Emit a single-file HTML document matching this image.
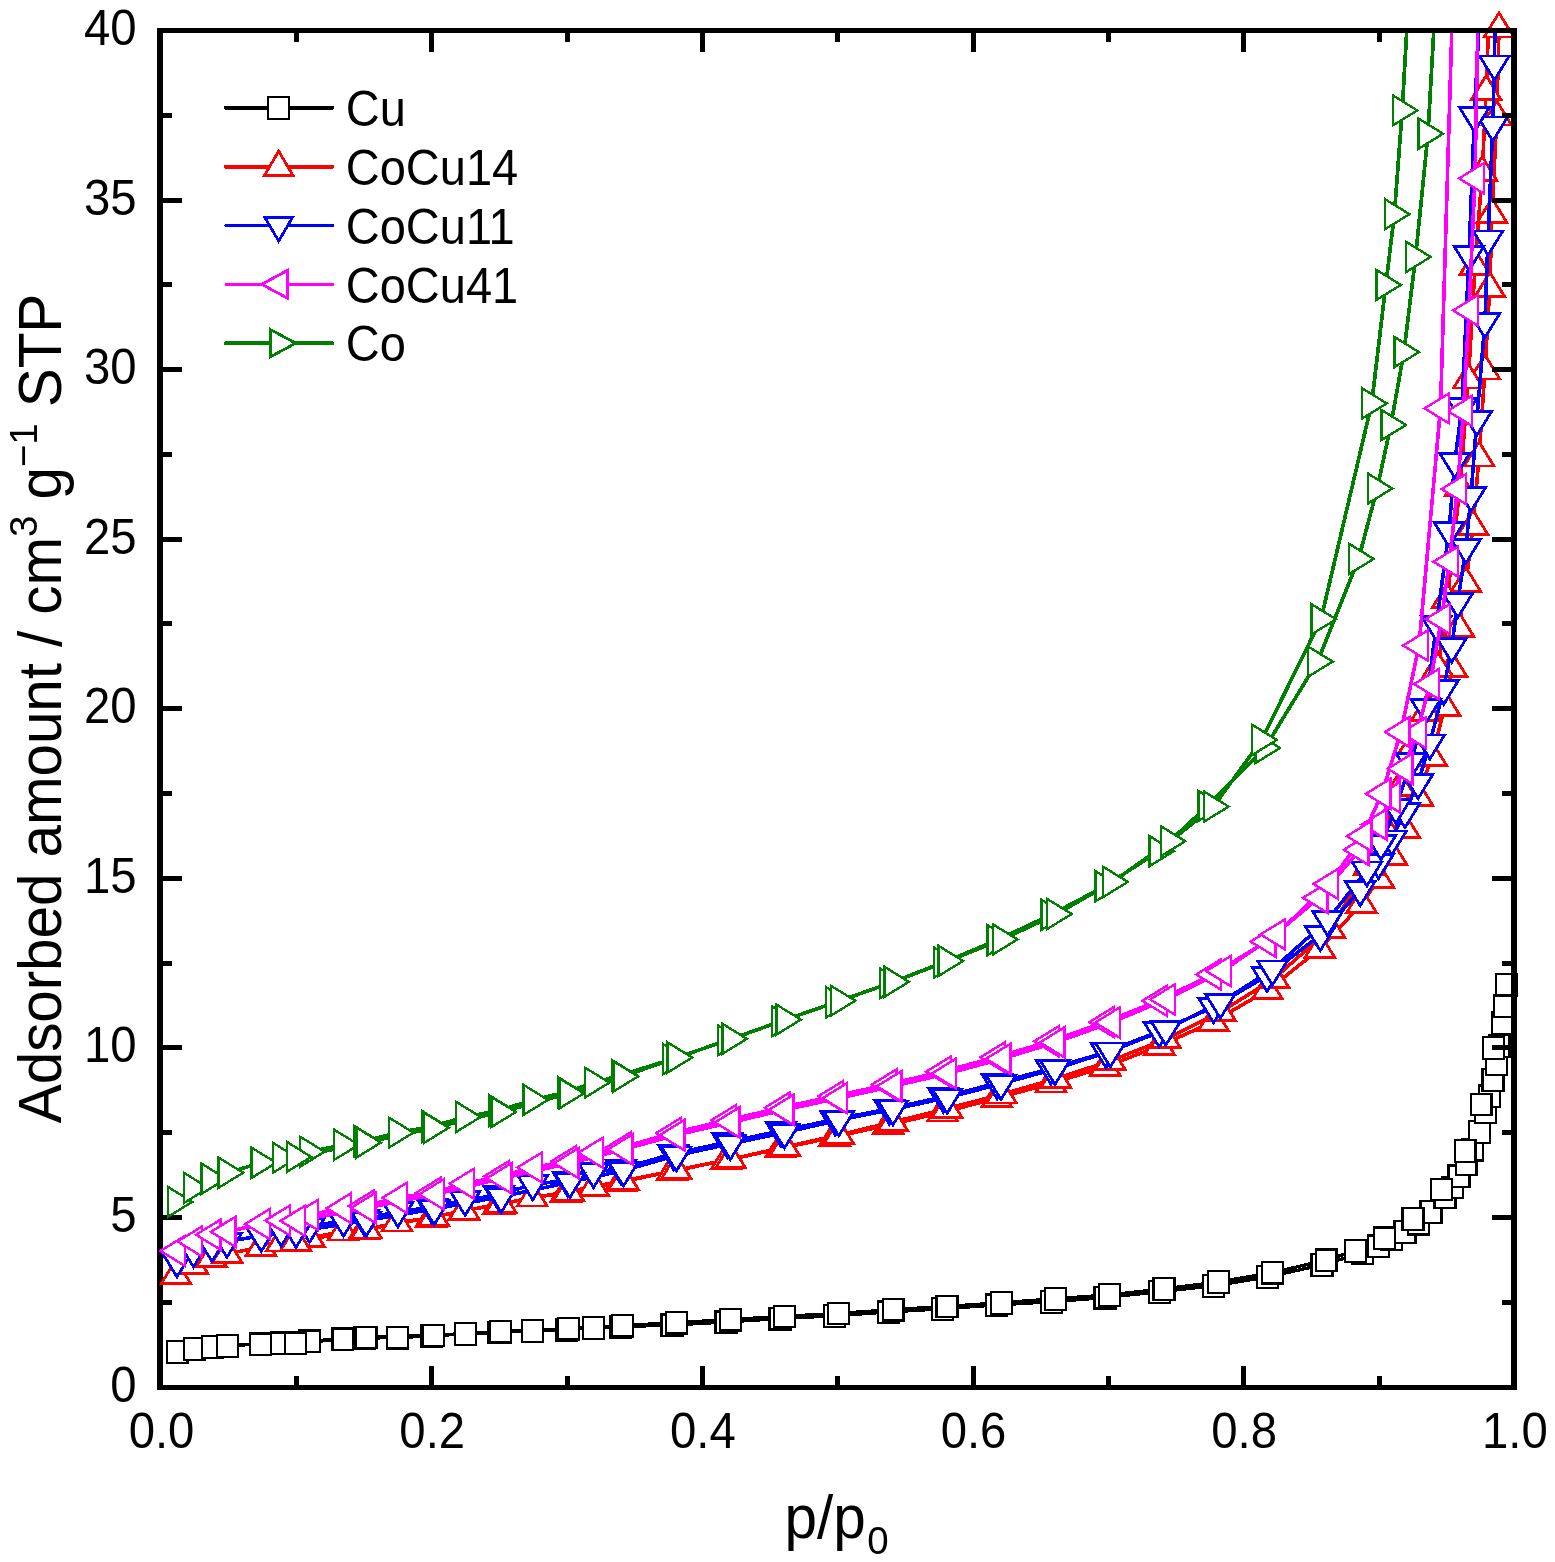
<!DOCTYPE html>
<html lang="en"><head><meta charset="utf-8"><title>Adsorption isotherms</title>
<style>
html,body{margin:0;padding:0;background:#fff}
body{width:1555px;height:1562px;overflow:hidden}
svg{display:block;font-family:"Liberation Sans",sans-serif;fill:#000}
.tl text{font-size:47.3px}
.at{font-size:58.5px}
.yt{letter-spacing:-0.11px}
.sub,.sup{font-size:38.5px}
.lg text{font-size:47px}
.s path{fill:none;stroke-linejoin:round;stroke-linecap:butt;shape-rendering:crispEdges}
.ax{shape-rendering:crispEdges}
.s .m{fill:#fff;stroke-linejoin:miter}
</style></head><body>
<svg width="1555" height="1562" viewBox="0 0 1555 1562">
<rect x="0" y="0" width="1555" height="1562" fill="#fff"/>
<defs><clipPath id="pc"><rect x="160" y="30" width="1354" height="1358"/></clipPath></defs>
<path class="ax" d="M157 28h6V1385H1517v5H157z" fill="#000"/><path class="ax" d="M293.8 1375.7h5.0V1386h-5.0zM429.2 1366.0h5.0V1386h-5.0zM564.5 1375.7h5.0V1386h-5.0zM699.8 1366.0h5.0V1386h-5.0zM835.1 1375.7h5.0V1386h-5.0zM970.5 1366.0h5.0V1386h-5.0zM1105.8 1375.7h5.0V1386h-5.0zM1241.1 1366.0h5.0V1386h-5.0zM1376.5 1375.7h5.0V1386h-5.0zM162 1299.7H172.0v5.0H162zM162 1214.9H182.0v5.0H162zM162 1130.1H172.0v5.0H162zM162 1045.3H182.0v5.0H162zM162 960.6H172.0v5.0H162zM162 875.8H182.0v5.0H162zM162 791.0H172.0v5.0H162zM162 706.2H182.0v5.0H162zM162 621.4H172.0v5.0H162zM162 536.6H182.0v5.0H162zM162 451.8H172.0v5.0H162zM162 367.1H182.0v5.0H162zM162 282.3H172.0v5.0H162zM162 197.5H182.0v5.0H162zM162 112.7H172.0v5.0H162z" fill="#000"/>
<g class="s" stroke="#000">
<path clip-path="url(#pc)" d="M177.1 1351.9L194.6 1348.9L212.5 1346.8L227.3 1345.8L260.5 1344.0L281.0 1343.0L309.3 1341.0L342.8 1339.0L364.2 1338.1L397.6 1337.6L431.6 1336.0L465.6 1333.8L498.7 1332.4L532.7 1330.9L566.7 1329.5L593.3 1327.9L620.6 1326.7L672.0 1325.0L726.0 1322.0L780.0 1318.6L834.2 1315.8L888.7 1312.0L942.6 1308.8L996.5 1305.0L1051.6 1301.8L1104.9 1297.6L1159.5 1291.7L1213.7 1285.9L1267.5 1276.9L1321.9 1264.9L1362.4 1253.1L1378.5 1246.1L1391.3 1239.0L1405.0 1231.9L1418.5 1223.5L1431.0 1211.8L1444.9 1197.3L1452.2 1187.4L1459.0 1176.0L1466.1 1164.0L1472.8 1149.5L1479.5 1131.9L1485.6 1112.3L1489.5 1096.0L1493.0 1079.9L1496.5 1064.4L1499.1 1045.7L1502.6 1023.0L1504.5 1005.9L1506.4 984.6L1493.8 1047.9L1481.1 1104.4L1465.1 1150.9L1441.8 1189.3L1413.0 1218.9L1384.5 1238.0L1355.6 1250.8L1326.1 1260.0L1272.6 1272.6L1218.2 1281.9L1164.0 1288.9L1109.6 1294.8L1055.4 1298.8L1001.2 1302.7L947.0 1306.4L893.1 1309.6L838.6 1313.4L784.5 1316.2L730.4 1319.6L676.4 1322.6L622.6 1325.6L568.5 1328.6L500.6 1331.6L433.4 1335.2L366.0 1337.4L295.7 1343.0" stroke-width="3.3"/>
<path class="m" d="M166.7 1341.3h20.9v21.5h-20.9z" stroke-width="2.2"/>
<path class="m" d="M184.2 1338.3h20.9v21.5h-20.9z" stroke-width="2.2"/>
<path class="m" d="M202.1 1336.2h20.9v21.5h-20.9z" stroke-width="2.2"/>
<path class="m" d="M216.9 1335.2h20.9v21.5h-20.9z" stroke-width="2.2"/>
<path class="m" d="M250.1 1333.4h20.9v21.5h-20.9z" stroke-width="2.2"/>
<path class="m" d="M270.6 1332.4h20.9v21.5h-20.9z" stroke-width="2.2"/>
<path class="m" d="M298.9 1330.4h20.9v21.5h-20.9z" stroke-width="2.2"/>
<path class="m" d="M332.4 1328.4h20.9v21.5h-20.9z" stroke-width="2.2"/>
<path class="m" d="M353.8 1327.5h20.9v21.5h-20.9z" stroke-width="2.2"/>
<path class="m" d="M387.2 1327.0h20.9v21.5h-20.9z" stroke-width="2.2"/>
<path class="m" d="M421.2 1325.4h20.9v21.5h-20.9z" stroke-width="2.2"/>
<path class="m" d="M455.2 1323.2h20.9v21.5h-20.9z" stroke-width="2.2"/>
<path class="m" d="M488.2 1321.8h20.9v21.5h-20.9z" stroke-width="2.2"/>
<path class="m" d="M522.2 1320.3h20.9v21.5h-20.9z" stroke-width="2.2"/>
<path class="m" d="M556.2 1318.9h20.9v21.5h-20.9z" stroke-width="2.2"/>
<path class="m" d="M582.8 1317.3h20.9v21.5h-20.9z" stroke-width="2.2"/>
<path class="m" d="M610.1 1316.1h20.9v21.5h-20.9z" stroke-width="2.2"/>
<path class="m" d="M661.5 1314.4h20.9v21.5h-20.9z" stroke-width="2.2"/>
<path class="m" d="M715.5 1311.4h20.9v21.5h-20.9z" stroke-width="2.2"/>
<path class="m" d="M769.5 1308.0h20.9v21.5h-20.9z" stroke-width="2.2"/>
<path class="m" d="M823.8 1305.2h20.9v21.5h-20.9z" stroke-width="2.2"/>
<path class="m" d="M878.2 1301.4h20.9v21.5h-20.9z" stroke-width="2.2"/>
<path class="m" d="M932.1 1298.2h20.9v21.5h-20.9z" stroke-width="2.2"/>
<path class="m" d="M986.0 1294.4h20.9v21.5h-20.9z" stroke-width="2.2"/>
<path class="m" d="M1041.1 1291.2h20.9v21.5h-20.9z" stroke-width="2.2"/>
<path class="m" d="M1094.5 1287.0h20.9v21.5h-20.9z" stroke-width="2.2"/>
<path class="m" d="M1149.0 1281.1h20.9v21.5h-20.9z" stroke-width="2.2"/>
<path class="m" d="M1203.2 1275.3h20.9v21.5h-20.9z" stroke-width="2.2"/>
<path class="m" d="M1257.0 1266.3h20.9v21.5h-20.9z" stroke-width="2.2"/>
<path class="m" d="M1311.5 1254.3h20.9v21.5h-20.9z" stroke-width="2.2"/>
<path class="m" d="M1352.0 1242.5h20.9v21.5h-20.9z" stroke-width="2.2"/>
<path class="m" d="M1368.0 1235.5h20.9v21.5h-20.9z" stroke-width="2.2"/>
<path class="m" d="M1380.8 1228.4h20.9v21.5h-20.9z" stroke-width="2.2"/>
<path class="m" d="M1394.5 1221.3h20.9v21.5h-20.9z" stroke-width="2.2"/>
<path class="m" d="M1408.0 1212.9h20.9v21.5h-20.9z" stroke-width="2.2"/>
<path class="m" d="M1420.5 1201.2h20.9v21.5h-20.9z" stroke-width="2.2"/>
<path class="m" d="M1434.5 1186.7h20.9v21.5h-20.9z" stroke-width="2.2"/>
<path class="m" d="M1441.8 1176.8h20.9v21.5h-20.9z" stroke-width="2.2"/>
<path class="m" d="M1448.5 1165.4h20.9v21.5h-20.9z" stroke-width="2.2"/>
<path class="m" d="M1455.6 1153.4h20.9v21.5h-20.9z" stroke-width="2.2"/>
<path class="m" d="M1462.3 1138.9h20.9v21.5h-20.9z" stroke-width="2.2"/>
<path class="m" d="M1469.0 1121.3h20.9v21.5h-20.9z" stroke-width="2.2"/>
<path class="m" d="M1475.1 1101.7h20.9v21.5h-20.9z" stroke-width="2.2"/>
<path class="m" d="M1479.0 1085.4h20.9v21.5h-20.9z" stroke-width="2.2"/>
<path class="m" d="M1482.5 1069.3h20.9v21.5h-20.9z" stroke-width="2.2"/>
<path class="m" d="M1486.0 1053.8h20.9v21.5h-20.9z" stroke-width="2.2"/>
<path class="m" d="M1488.6 1035.1h20.9v21.5h-20.9z" stroke-width="2.2"/>
<path class="m" d="M1492.1 1012.4h20.9v21.5h-20.9z" stroke-width="2.2"/>
<path class="m" d="M1494.0 995.3h20.9v21.5h-20.9z" stroke-width="2.2"/>
<path class="m" d="M1496.0 974.0h20.9v21.5h-20.9z" stroke-width="2.2"/>
<path class="m" d="M1483.3 1037.3h20.9v21.5h-20.9z" stroke-width="2.2"/>
<path class="m" d="M1470.6 1093.8h20.9v21.5h-20.9z" stroke-width="2.2"/>
<path class="m" d="M1454.6 1140.3h20.9v21.5h-20.9z" stroke-width="2.2"/>
<path class="m" d="M1431.3 1178.7h20.9v21.5h-20.9z" stroke-width="2.2"/>
<path class="m" d="M1402.5 1208.3h20.9v21.5h-20.9z" stroke-width="2.2"/>
<path class="m" d="M1374.0 1227.4h20.9v21.5h-20.9z" stroke-width="2.2"/>
<path class="m" d="M1345.1 1240.2h20.9v21.5h-20.9z" stroke-width="2.2"/>
<path class="m" d="M1315.6 1249.4h20.9v21.5h-20.9z" stroke-width="2.2"/>
<path class="m" d="M1262.1 1262.0h20.9v21.5h-20.9z" stroke-width="2.2"/>
<path class="m" d="M1207.8 1271.3h20.9v21.5h-20.9z" stroke-width="2.2"/>
<path class="m" d="M1153.5 1278.3h20.9v21.5h-20.9z" stroke-width="2.2"/>
<path class="m" d="M1099.1 1284.2h20.9v21.5h-20.9z" stroke-width="2.2"/>
<path class="m" d="M1045.0 1288.2h20.9v21.5h-20.9z" stroke-width="2.2"/>
<path class="m" d="M990.8 1292.1h20.9v21.5h-20.9z" stroke-width="2.2"/>
<path class="m" d="M936.5 1295.8h20.9v21.5h-20.9z" stroke-width="2.2"/>
<path class="m" d="M882.6 1299.0h20.9v21.5h-20.9z" stroke-width="2.2"/>
<path class="m" d="M828.1 1302.8h20.9v21.5h-20.9z" stroke-width="2.2"/>
<path class="m" d="M774.0 1305.6h20.9v21.5h-20.9z" stroke-width="2.2"/>
<path class="m" d="M719.9 1309.0h20.9v21.5h-20.9z" stroke-width="2.2"/>
<path class="m" d="M665.9 1312.0h20.9v21.5h-20.9z" stroke-width="2.2"/>
<path class="m" d="M612.1 1315.0h20.9v21.5h-20.9z" stroke-width="2.2"/>
<path class="m" d="M558.0 1318.0h20.9v21.5h-20.9z" stroke-width="2.2"/>
<path class="m" d="M490.2 1321.0h20.9v21.5h-20.9z" stroke-width="2.2"/>
<path class="m" d="M422.9 1324.6h20.9v21.5h-20.9z" stroke-width="2.2"/>
<path class="m" d="M355.6 1326.8h20.9v21.5h-20.9z" stroke-width="2.2"/>
<path class="m" d="M285.2 1332.4h20.9v21.5h-20.9z" stroke-width="2.2"/>
</g>
<g class="s" stroke="#f00">
<path clip-path="url(#pc)" d="M176.0 1275.2L193.0 1264.9L211.4 1257.8L227.2 1254.0L261.0 1246.9L281.2 1242.4L309.5 1237.9L343.0 1231.5L364.0 1230.2L397.0 1222.5L431.1 1217.8L464.2 1210.6L498.6 1204.7L532.2 1197.4L565.9 1192.8L593.8 1187.1L620.9 1182.1L672.0 1171.2L726.2 1160.3L780.5 1148.5L834.5 1137.0L888.3 1125.0L942.5 1112.4L996.8 1098.2L1051.0 1083.5L1105.3 1066.8L1159.6 1045.9L1213.4 1021.6L1267.4 990.3L1319.9 948.9L1361.6 903.9L1378.8 878.8L1391.9 855.8L1404.7 828.8L1418.0 796.9L1431.8 756.9L1445.0 706.7L1452.2 668.1L1458.9 627.8L1465.9 582.9L1473.1 526.0L1479.0 457.4L1484.9 370.5L1489.8 288.0L1492.0 213.9L1496.8 116.5L1499.0 28.5L1500.2 -40.0L1490.6 -30.0L1486.2 91.1L1482.2 172.3L1475.1 265.6L1468.4 379.4L1459.9 487.5L1447.2 599.1L1438.0 668.0L1426.0 712.0L1413.5 745.0L1400.0 787.0L1385.0 828.0L1369.0 866.0L1329.9 928.9L1273.9 978.7L1220.6 1012.1L1165.5 1039.2L1110.3 1060.9L1055.8 1078.8L1001.5 1094.4L947.0 1108.6L892.8 1122.0L838.7 1135.0L784.7 1147.0L730.6 1159.3L676.3 1170.2L623.5 1180.8L568.5 1191.6L501.0 1203.6L433.6 1216.8L366.4 1229.4L295.6 1241.7" stroke-width="3.6"/>
<path class="m" d="M176.0 1259.6L190.8 1283.7H161.2z" stroke-width="2.8"/>
<path class="m" d="M193.0 1249.3L207.8 1273.4H178.2z" stroke-width="2.8"/>
<path class="m" d="M211.4 1242.2L226.2 1266.3H196.6z" stroke-width="2.8"/>
<path class="m" d="M227.2 1238.4L242.0 1262.5H212.4z" stroke-width="2.8"/>
<path class="m" d="M261.0 1231.3L275.8 1255.4H246.2z" stroke-width="2.8"/>
<path class="m" d="M281.2 1226.8L296.0 1250.9H266.4z" stroke-width="2.8"/>
<path class="m" d="M309.5 1222.3L324.3 1246.4H294.7z" stroke-width="2.8"/>
<path class="m" d="M343.0 1215.9L357.8 1240.0H328.2z" stroke-width="2.8"/>
<path class="m" d="M364.0 1214.6L378.8 1238.7H349.2z" stroke-width="2.8"/>
<path class="m" d="M397.0 1206.9L411.8 1231.0H382.2z" stroke-width="2.8"/>
<path class="m" d="M431.1 1202.2L445.9 1226.3H416.3z" stroke-width="2.8"/>
<path class="m" d="M464.2 1195.0L479.0 1219.1H449.4z" stroke-width="2.8"/>
<path class="m" d="M498.6 1189.1L513.4 1213.2H483.8z" stroke-width="2.8"/>
<path class="m" d="M532.2 1181.8L547.0 1205.9H517.4z" stroke-width="2.8"/>
<path class="m" d="M565.9 1177.2L580.7 1201.3H551.1z" stroke-width="2.8"/>
<path class="m" d="M593.8 1171.5L608.6 1195.6H579.0z" stroke-width="2.8"/>
<path class="m" d="M620.9 1166.5L635.7 1190.6H606.1z" stroke-width="2.8"/>
<path class="m" d="M672.0 1155.6L686.8 1179.7H657.2z" stroke-width="2.8"/>
<path class="m" d="M726.2 1144.7L741.0 1168.8H711.4z" stroke-width="2.8"/>
<path class="m" d="M780.5 1132.9L795.3 1157.0H765.7z" stroke-width="2.8"/>
<path class="m" d="M834.5 1121.4L849.3 1145.5H819.7z" stroke-width="2.8"/>
<path class="m" d="M888.3 1109.4L903.1 1133.5H873.5z" stroke-width="2.8"/>
<path class="m" d="M942.5 1096.8L957.3 1120.9H927.7z" stroke-width="2.8"/>
<path class="m" d="M996.8 1082.6L1011.6 1106.7H982.0z" stroke-width="2.8"/>
<path class="m" d="M1051.0 1067.9L1065.8 1092.0H1036.2z" stroke-width="2.8"/>
<path class="m" d="M1105.3 1051.2L1120.1 1075.3H1090.5z" stroke-width="2.8"/>
<path class="m" d="M1159.6 1030.3L1174.4 1054.4H1144.8z" stroke-width="2.8"/>
<path class="m" d="M1213.4 1006.0L1228.2 1030.1H1198.6z" stroke-width="2.8"/>
<path class="m" d="M1267.4 974.7L1282.2 998.8H1252.6z" stroke-width="2.8"/>
<path class="m" d="M1319.9 933.3L1334.7 957.4H1305.1z" stroke-width="2.8"/>
<path class="m" d="M1361.6 888.3L1376.4 912.4H1346.8z" stroke-width="2.8"/>
<path class="m" d="M1378.8 863.2L1393.6 887.3H1364.0z" stroke-width="2.8"/>
<path class="m" d="M1391.9 840.2L1406.7 864.3H1377.1z" stroke-width="2.8"/>
<path class="m" d="M1404.7 813.2L1419.5 837.3H1389.9z" stroke-width="2.8"/>
<path class="m" d="M1418.0 781.3L1432.8 805.4H1403.2z" stroke-width="2.8"/>
<path class="m" d="M1431.8 741.3L1446.6 765.4H1417.0z" stroke-width="2.8"/>
<path class="m" d="M1445.0 691.1L1459.8 715.2H1430.2z" stroke-width="2.8"/>
<path class="m" d="M1452.2 652.5L1467.0 676.6H1437.4z" stroke-width="2.8"/>
<path class="m" d="M1458.9 612.2L1473.7 636.3H1444.1z" stroke-width="2.8"/>
<path class="m" d="M1465.9 567.3L1480.7 591.4H1451.1z" stroke-width="2.8"/>
<path class="m" d="M1473.1 510.4L1487.9 534.5H1458.3z" stroke-width="2.8"/>
<path class="m" d="M1479.0 441.8L1493.8 465.9H1464.2z" stroke-width="2.8"/>
<path class="m" d="M1484.9 354.9L1499.7 379.0H1470.1z" stroke-width="2.8"/>
<path class="m" d="M1489.8 272.4L1504.6 296.5H1475.0z" stroke-width="2.8"/>
<path class="m" d="M1492.0 198.3L1506.8 222.4H1477.2z" stroke-width="2.8"/>
<path class="m" d="M1496.8 100.9L1511.6 125.0H1482.0z" stroke-width="2.8"/>
<path class="m" d="M1499.0 12.9L1513.8 37.0H1484.2z" stroke-width="2.8"/>
<path class="m" d="M1486.2 75.5L1501.0 99.6H1471.4z" stroke-width="2.8"/>
<path class="m" d="M1482.2 156.7L1497.0 180.8H1467.4z" stroke-width="2.8"/>
<path class="m" d="M1475.1 250.0L1489.9 274.1H1460.3z" stroke-width="2.8"/>
<path class="m" d="M1468.4 363.8L1483.2 387.9H1453.6z" stroke-width="2.8"/>
<path class="m" d="M1459.9 471.9L1474.7 496.0H1445.1z" stroke-width="2.8"/>
<path class="m" d="M1447.2 583.5L1462.0 607.6H1432.4z" stroke-width="2.8"/>
<path class="m" d="M1438.0 652.4L1452.8 676.5H1423.2z" stroke-width="2.8"/>
<path class="m" d="M1426.0 696.4L1440.8 720.5H1411.2z" stroke-width="2.8"/>
<path class="m" d="M1413.5 729.4L1428.3 753.5H1398.7z" stroke-width="2.8"/>
<path class="m" d="M1400.0 771.4L1414.8 795.5H1385.2z" stroke-width="2.8"/>
<path class="m" d="M1385.0 812.4L1399.8 836.5H1370.2z" stroke-width="2.8"/>
<path class="m" d="M1369.0 850.4L1383.8 874.5H1354.2z" stroke-width="2.8"/>
<path class="m" d="M1329.9 913.3L1344.7 937.4H1315.1z" stroke-width="2.8"/>
<path class="m" d="M1273.9 963.1L1288.7 987.2H1259.1z" stroke-width="2.8"/>
<path class="m" d="M1220.6 996.5L1235.4 1020.6H1205.8z" stroke-width="2.8"/>
<path class="m" d="M1165.5 1023.6L1180.3 1047.7H1150.7z" stroke-width="2.8"/>
<path class="m" d="M1110.3 1045.3L1125.1 1069.4H1095.5z" stroke-width="2.8"/>
<path class="m" d="M1055.8 1063.2L1070.6 1087.3H1041.0z" stroke-width="2.8"/>
<path class="m" d="M1001.5 1078.8L1016.3 1102.9H986.7z" stroke-width="2.8"/>
<path class="m" d="M947.0 1093.0L961.8 1117.1H932.2z" stroke-width="2.8"/>
<path class="m" d="M892.8 1106.4L907.6 1130.5H878.0z" stroke-width="2.8"/>
<path class="m" d="M838.7 1119.4L853.5 1143.5H823.9z" stroke-width="2.8"/>
<path class="m" d="M784.7 1131.4L799.5 1155.5H769.9z" stroke-width="2.8"/>
<path class="m" d="M730.6 1143.7L745.4 1167.8H715.8z" stroke-width="2.8"/>
<path class="m" d="M676.3 1154.6L691.1 1178.7H661.5z" stroke-width="2.8"/>
<path class="m" d="M623.5 1165.2L638.3 1189.3H608.7z" stroke-width="2.8"/>
<path class="m" d="M568.5 1176.0L583.3 1200.1H553.7z" stroke-width="2.8"/>
<path class="m" d="M501.0 1188.0L515.8 1212.1H486.2z" stroke-width="2.8"/>
<path class="m" d="M433.6 1201.2L448.4 1225.3H418.8z" stroke-width="2.8"/>
<path class="m" d="M366.4 1213.8L381.2 1237.9H351.6z" stroke-width="2.8"/>
<path class="m" d="M295.6 1226.1L310.4 1250.2H280.8z" stroke-width="2.8"/>
</g>
<g class="s" stroke="#00f">
<path clip-path="url(#pc)" d="M177.0 1261.3L193.5 1251.3L212.0 1245.9L226.9 1241.6L261.3 1235.8L281.2 1230.4L309.5 1226.8L343.5 1220.6L364.0 1219.1L397.9 1211.3L431.9 1207.5L465.1 1199.8L499.0 1195.1L532.7 1184.3L567.6 1180.4L593.5 1172.1L621.1 1168.7L673.3 1153.7L727.4 1142.1L781.0 1130.8L835.2 1119.4L889.3 1108.6L943.4 1096.9L997.0 1083.1L1050.8 1068.5L1106.1 1052.2L1159.1 1031.3L1213.6 1007.1L1267.0 975.8L1320.3 935.1L1360.2 890.0L1378.5 863.1L1391.7 839.4L1405.0 812.0L1418.1 782.9L1429.8 743.5L1443.7 688.8L1451.7 646.7L1457.8 601.9L1465.9 547.6L1471.0 495.6L1476.8 419.9L1484.9 322.1L1488.0 239.5L1492.8 125.5L1494.4 64.5L1495.8 -30.0L1481.8 -30.0L1474.4 116.1L1469.0 254.9L1462.0 406.9L1454.7 462.0L1449.0 531.0L1436.3 624.9L1425.8 707.7L1411.0 762.0L1395.8 807.9L1381.0 844.0L1366.9 870.4L1327.6 920.0L1272.5 969.5L1220.3 1002.6L1165.8 1029.6L1110.3 1051.4L1055.0 1068.9L1001.0 1083.9L947.2 1097.7L892.9 1109.4L838.8 1120.2L784.4 1132.6L730.4 1143.9L676.3 1155.5L623.4 1170.6L569.8 1182.2L501.2 1196.8L434.2 1209.0L366.2 1220.6L296.0 1231.7" stroke-width="3.6"/>
<path class="m" d="M177.0 1276.9L191.8 1252.8H162.2z" stroke-width="2.8"/>
<path class="m" d="M193.5 1266.9L208.3 1242.8H178.7z" stroke-width="2.8"/>
<path class="m" d="M212.0 1261.5L226.8 1237.4H197.2z" stroke-width="2.8"/>
<path class="m" d="M226.9 1257.2L241.7 1233.1H212.1z" stroke-width="2.8"/>
<path class="m" d="M261.3 1251.4L276.1 1227.3H246.5z" stroke-width="2.8"/>
<path class="m" d="M281.2 1246.0L296.0 1221.9H266.4z" stroke-width="2.8"/>
<path class="m" d="M309.5 1242.4L324.3 1218.3H294.7z" stroke-width="2.8"/>
<path class="m" d="M343.5 1236.2L358.3 1212.1H328.7z" stroke-width="2.8"/>
<path class="m" d="M364.0 1234.7L378.8 1210.6H349.2z" stroke-width="2.8"/>
<path class="m" d="M397.9 1226.9L412.7 1202.8H383.1z" stroke-width="2.8"/>
<path class="m" d="M431.9 1223.1L446.7 1199.0H417.1z" stroke-width="2.8"/>
<path class="m" d="M465.1 1215.4L479.9 1191.3H450.3z" stroke-width="2.8"/>
<path class="m" d="M499.0 1210.7L513.8 1186.6H484.2z" stroke-width="2.8"/>
<path class="m" d="M532.7 1199.9L547.5 1175.8H517.9z" stroke-width="2.8"/>
<path class="m" d="M567.6 1196.0L582.4 1171.9H552.8z" stroke-width="2.8"/>
<path class="m" d="M593.5 1187.7L608.3 1163.6H578.7z" stroke-width="2.8"/>
<path class="m" d="M621.1 1184.3L635.9 1160.2H606.3z" stroke-width="2.8"/>
<path class="m" d="M673.3 1169.3L688.1 1145.2H658.5z" stroke-width="2.8"/>
<path class="m" d="M727.4 1157.7L742.2 1133.6H712.6z" stroke-width="2.8"/>
<path class="m" d="M781.0 1146.4L795.8 1122.3H766.2z" stroke-width="2.8"/>
<path class="m" d="M835.2 1135.0L850.0 1110.9H820.4z" stroke-width="2.8"/>
<path class="m" d="M889.3 1124.2L904.1 1100.1H874.5z" stroke-width="2.8"/>
<path class="m" d="M943.4 1112.5L958.2 1088.4H928.6z" stroke-width="2.8"/>
<path class="m" d="M997.0 1098.7L1011.8 1074.6H982.2z" stroke-width="2.8"/>
<path class="m" d="M1050.8 1084.1L1065.6 1060.0H1036.0z" stroke-width="2.8"/>
<path class="m" d="M1106.1 1067.8L1120.9 1043.7H1091.3z" stroke-width="2.8"/>
<path class="m" d="M1159.1 1046.9L1173.9 1022.8H1144.3z" stroke-width="2.8"/>
<path class="m" d="M1213.6 1022.7L1228.4 998.6H1198.8z" stroke-width="2.8"/>
<path class="m" d="M1267.0 991.4L1281.8 967.3H1252.2z" stroke-width="2.8"/>
<path class="m" d="M1320.3 950.7L1335.1 926.6H1305.5z" stroke-width="2.8"/>
<path class="m" d="M1360.2 905.6L1375.0 881.5H1345.4z" stroke-width="2.8"/>
<path class="m" d="M1378.5 878.7L1393.3 854.6H1363.7z" stroke-width="2.8"/>
<path class="m" d="M1391.7 855.0L1406.5 830.9H1376.9z" stroke-width="2.8"/>
<path class="m" d="M1405.0 827.6L1419.8 803.5H1390.2z" stroke-width="2.8"/>
<path class="m" d="M1418.1 798.5L1432.9 774.4H1403.3z" stroke-width="2.8"/>
<path class="m" d="M1429.8 759.1L1444.6 735.0H1415.0z" stroke-width="2.8"/>
<path class="m" d="M1443.7 704.4L1458.5 680.3H1428.9z" stroke-width="2.8"/>
<path class="m" d="M1451.7 662.3L1466.5 638.2H1436.9z" stroke-width="2.8"/>
<path class="m" d="M1457.8 617.5L1472.6 593.4H1443.0z" stroke-width="2.8"/>
<path class="m" d="M1465.9 563.2L1480.7 539.1H1451.1z" stroke-width="2.8"/>
<path class="m" d="M1471.0 511.2L1485.8 487.1H1456.2z" stroke-width="2.8"/>
<path class="m" d="M1476.8 435.5L1491.6 411.4H1462.0z" stroke-width="2.8"/>
<path class="m" d="M1484.9 337.7L1499.7 313.6H1470.1z" stroke-width="2.8"/>
<path class="m" d="M1488.0 255.1L1502.8 231.0H1473.2z" stroke-width="2.8"/>
<path class="m" d="M1492.8 141.1L1507.6 117.0H1478.0z" stroke-width="2.8"/>
<path class="m" d="M1494.4 80.1L1509.2 56.0H1479.6z" stroke-width="2.8"/>
<path class="m" d="M1474.4 131.7L1489.2 107.6H1459.6z" stroke-width="2.8"/>
<path class="m" d="M1469.0 270.5L1483.8 246.4H1454.2z" stroke-width="2.8"/>
<path class="m" d="M1462.0 422.5L1476.8 398.4H1447.2z" stroke-width="2.8"/>
<path class="m" d="M1454.7 477.6L1469.5 453.5H1439.9z" stroke-width="2.8"/>
<path class="m" d="M1449.0 546.6L1463.8 522.5H1434.2z" stroke-width="2.8"/>
<path class="m" d="M1436.3 640.5L1451.1 616.4H1421.5z" stroke-width="2.8"/>
<path class="m" d="M1425.8 723.3L1440.6 699.2H1411.0z" stroke-width="2.8"/>
<path class="m" d="M1411.0 777.6L1425.8 753.5H1396.2z" stroke-width="2.8"/>
<path class="m" d="M1395.8 823.5L1410.6 799.4H1381.0z" stroke-width="2.8"/>
<path class="m" d="M1381.0 859.6L1395.8 835.5H1366.2z" stroke-width="2.8"/>
<path class="m" d="M1366.9 886.0L1381.7 861.9H1352.1z" stroke-width="2.8"/>
<path class="m" d="M1327.6 935.6L1342.4 911.5H1312.8z" stroke-width="2.8"/>
<path class="m" d="M1272.5 985.1L1287.3 961.0H1257.7z" stroke-width="2.8"/>
<path class="m" d="M1220.3 1018.2L1235.1 994.1H1205.5z" stroke-width="2.8"/>
<path class="m" d="M1165.8 1045.2L1180.6 1021.1H1151.0z" stroke-width="2.8"/>
<path class="m" d="M1110.3 1067.0L1125.1 1042.9H1095.5z" stroke-width="2.8"/>
<path class="m" d="M1055.0 1084.5L1069.8 1060.4H1040.2z" stroke-width="2.8"/>
<path class="m" d="M1001.0 1099.5L1015.8 1075.4H986.2z" stroke-width="2.8"/>
<path class="m" d="M947.2 1113.3L962.0 1089.2H932.4z" stroke-width="2.8"/>
<path class="m" d="M892.9 1125.0L907.7 1100.9H878.1z" stroke-width="2.8"/>
<path class="m" d="M838.8 1135.8L853.6 1111.7H824.0z" stroke-width="2.8"/>
<path class="m" d="M784.4 1148.2L799.2 1124.1H769.6z" stroke-width="2.8"/>
<path class="m" d="M730.4 1159.5L745.2 1135.4H715.6z" stroke-width="2.8"/>
<path class="m" d="M676.3 1171.1L691.1 1147.0H661.5z" stroke-width="2.8"/>
<path class="m" d="M623.4 1186.2L638.2 1162.1H608.6z" stroke-width="2.8"/>
<path class="m" d="M569.8 1197.8L584.6 1173.7H555.0z" stroke-width="2.8"/>
<path class="m" d="M501.2 1212.4L516.0 1188.3H486.4z" stroke-width="2.8"/>
<path class="m" d="M434.2 1224.6L449.0 1200.5H419.4z" stroke-width="2.8"/>
<path class="m" d="M366.2 1236.2L381.0 1212.1H351.4z" stroke-width="2.8"/>
<path class="m" d="M296.0 1247.3L310.8 1223.2H281.2z" stroke-width="2.8"/>
</g>
<g class="s" stroke="#f0f">
<path clip-path="url(#pc)" d="M176.4 1250.9L193.5 1241.5L211.9 1234.7L226.9 1231.8L261.0 1224.1L281.3 1220.5L309.2 1215.0L342.5 1208.2L364.6 1205.9L398.1 1197.9L432.5 1192.5L465.4 1183.7L500.0 1176.3L533.3 1167.5L567.4 1161.2L594.2 1152.8L621.9 1147.5L672.1 1133.1L727.3 1120.2L780.8 1107.7L834.3 1096.2L887.8 1084.5L942.2 1071.6L996.5 1057.2L1050.1 1041.3L1105.3 1022.1L1158.3 1000.8L1212.2 974.5L1266.6 941.6L1318.9 897.8L1359.7 849.8L1377.7 824.5L1391.1 797.4L1403.6 768.7L1417.0 732.9L1430.0 684.1L1441.5 619.1L1449.3 561.7L1457.5 489.1L1463.5 410.9L1469.0 310.4L1475.0 178.4L1478.8 -30.0L1453.6 -30.0L1440.5 408.4L1419.0 645.5L1400.9 732.0L1381.8 793.8L1362.7 836.2L1329.3 883.9L1276.4 934.4L1222.1 971.1L1166.1 999.5L1111.0 1022.6L1055.8 1042.4L1001.9 1058.8L947.5 1073.6L892.7 1086.3L838.4 1098.2L784.8 1109.8L730.8 1122.4L675.6 1135.1L623.8 1149.4L569.8 1163.2L502.6 1178.3L435.0 1194.4L366.9 1207.9L296.4 1220.9" stroke-width="3.6"/>
<path class="m" d="M160.5 1250.9L185.1 1235.8V1266.0z" stroke-width="2.4"/>
<path class="m" d="M177.6 1241.5L202.2 1226.4V1256.6z" stroke-width="2.4"/>
<path class="m" d="M196.0 1234.7L220.6 1219.6V1249.8z" stroke-width="2.4"/>
<path class="m" d="M211.0 1231.8L235.6 1216.7V1246.9z" stroke-width="2.4"/>
<path class="m" d="M245.1 1224.1L269.7 1209.0V1239.2z" stroke-width="2.4"/>
<path class="m" d="M265.4 1220.5L290.0 1205.4V1235.6z" stroke-width="2.4"/>
<path class="m" d="M293.3 1215.0L317.9 1199.9V1230.1z" stroke-width="2.4"/>
<path class="m" d="M326.6 1208.2L351.2 1193.1V1223.3z" stroke-width="2.4"/>
<path class="m" d="M348.7 1205.9L373.3 1190.8V1221.0z" stroke-width="2.4"/>
<path class="m" d="M382.2 1197.9L406.8 1182.8V1213.0z" stroke-width="2.4"/>
<path class="m" d="M416.6 1192.5L441.2 1177.4V1207.6z" stroke-width="2.4"/>
<path class="m" d="M449.5 1183.7L474.1 1168.6V1198.8z" stroke-width="2.4"/>
<path class="m" d="M484.1 1176.3L508.7 1161.2V1191.4z" stroke-width="2.4"/>
<path class="m" d="M517.4 1167.5L542.0 1152.4V1182.6z" stroke-width="2.4"/>
<path class="m" d="M551.5 1161.2L576.1 1146.1V1176.3z" stroke-width="2.4"/>
<path class="m" d="M578.3 1152.8L602.9 1137.7V1167.9z" stroke-width="2.4"/>
<path class="m" d="M606.0 1147.5L630.6 1132.4V1162.6z" stroke-width="2.4"/>
<path class="m" d="M656.2 1133.1L680.8 1118.0V1148.2z" stroke-width="2.4"/>
<path class="m" d="M711.4 1120.2L736.0 1105.1V1135.3z" stroke-width="2.4"/>
<path class="m" d="M764.9 1107.7L789.5 1092.6V1122.8z" stroke-width="2.4"/>
<path class="m" d="M818.4 1096.2L843.0 1081.1V1111.3z" stroke-width="2.4"/>
<path class="m" d="M871.9 1084.5L896.5 1069.4V1099.6z" stroke-width="2.4"/>
<path class="m" d="M926.3 1071.6L950.9 1056.5V1086.7z" stroke-width="2.4"/>
<path class="m" d="M980.6 1057.2L1005.2 1042.1V1072.3z" stroke-width="2.4"/>
<path class="m" d="M1034.2 1041.3L1058.8 1026.2V1056.4z" stroke-width="2.4"/>
<path class="m" d="M1089.4 1022.1L1114.0 1007.0V1037.2z" stroke-width="2.4"/>
<path class="m" d="M1142.4 1000.8L1167.0 985.7V1015.9z" stroke-width="2.4"/>
<path class="m" d="M1196.3 974.5L1220.9 959.4V989.6z" stroke-width="2.4"/>
<path class="m" d="M1250.7 941.6L1275.3 926.5V956.7z" stroke-width="2.4"/>
<path class="m" d="M1303.0 897.8L1327.6 882.7V912.9z" stroke-width="2.4"/>
<path class="m" d="M1343.8 849.8L1368.4 834.7V864.9z" stroke-width="2.4"/>
<path class="m" d="M1361.8 824.5L1386.4 809.4V839.6z" stroke-width="2.4"/>
<path class="m" d="M1375.2 797.4L1399.8 782.3V812.5z" stroke-width="2.4"/>
<path class="m" d="M1387.7 768.7L1412.3 753.6V783.8z" stroke-width="2.4"/>
<path class="m" d="M1401.1 732.9L1425.7 717.8V748.0z" stroke-width="2.4"/>
<path class="m" d="M1414.1 684.1L1438.7 669.0V699.2z" stroke-width="2.4"/>
<path class="m" d="M1425.6 619.1L1450.2 604.0V634.2z" stroke-width="2.4"/>
<path class="m" d="M1433.4 561.7L1458.0 546.6V576.8z" stroke-width="2.4"/>
<path class="m" d="M1441.6 489.1L1466.2 474.0V504.2z" stroke-width="2.4"/>
<path class="m" d="M1447.6 410.9L1472.2 395.8V426.0z" stroke-width="2.4"/>
<path class="m" d="M1453.1 310.4L1477.7 295.3V325.5z" stroke-width="2.4"/>
<path class="m" d="M1459.1 178.4L1483.7 163.3V193.5z" stroke-width="2.4"/>
<path class="m" d="M1424.6 408.4L1449.2 393.3V423.5z" stroke-width="2.4"/>
<path class="m" d="M1403.1 645.5L1427.7 630.4V660.6z" stroke-width="2.4"/>
<path class="m" d="M1385.0 732.0L1409.6 716.9V747.1z" stroke-width="2.4"/>
<path class="m" d="M1365.9 793.8L1390.5 778.7V808.9z" stroke-width="2.4"/>
<path class="m" d="M1346.8 836.2L1371.4 821.1V851.3z" stroke-width="2.4"/>
<path class="m" d="M1313.4 883.9L1338.0 868.8V899.0z" stroke-width="2.4"/>
<path class="m" d="M1260.5 934.4L1285.1 919.3V949.5z" stroke-width="2.4"/>
<path class="m" d="M1206.2 971.1L1230.8 956.0V986.2z" stroke-width="2.4"/>
<path class="m" d="M1150.2 999.5L1174.8 984.4V1014.6z" stroke-width="2.4"/>
<path class="m" d="M1095.1 1022.6L1119.7 1007.5V1037.7z" stroke-width="2.4"/>
<path class="m" d="M1039.9 1042.4L1064.5 1027.3V1057.5z" stroke-width="2.4"/>
<path class="m" d="M986.0 1058.8L1010.6 1043.7V1073.9z" stroke-width="2.4"/>
<path class="m" d="M931.6 1073.6L956.2 1058.5V1088.7z" stroke-width="2.4"/>
<path class="m" d="M876.8 1086.3L901.4 1071.2V1101.4z" stroke-width="2.4"/>
<path class="m" d="M822.5 1098.2L847.1 1083.1V1113.3z" stroke-width="2.4"/>
<path class="m" d="M768.9 1109.8L793.5 1094.7V1124.9z" stroke-width="2.4"/>
<path class="m" d="M714.9 1122.4L739.5 1107.3V1137.5z" stroke-width="2.4"/>
<path class="m" d="M659.7 1135.1L684.3 1120.0V1150.2z" stroke-width="2.4"/>
<path class="m" d="M607.9 1149.4L632.5 1134.3V1164.5z" stroke-width="2.4"/>
<path class="m" d="M553.9 1163.2L578.5 1148.1V1178.3z" stroke-width="2.4"/>
<path class="m" d="M486.7 1178.3L511.3 1163.2V1193.4z" stroke-width="2.4"/>
<path class="m" d="M419.1 1194.4L443.7 1179.3V1209.5z" stroke-width="2.4"/>
<path class="m" d="M351.0 1207.9L375.6 1192.8V1223.0z" stroke-width="2.4"/>
<path class="m" d="M280.5 1220.9L305.1 1205.8V1236.0z" stroke-width="2.4"/>
</g>
<g class="s" stroke="#007f00">
<path clip-path="url(#pc)" d="M177.2 1201.9L193.4 1187.9L211.0 1178.7L228.1 1172.7L261.1 1162.8L282.2 1157.8L309.5 1151.7L343.7 1144.8L364.1 1141.2L398.3 1132.6L432.0 1126.4L465.6 1116.9L499.1 1110.6L532.9 1099.9L567.2 1092.0L594.3 1082.6L621.3 1075.0L672.5 1059.1L727.2 1040.4L781.2 1021.2L835.6 1002.3L889.2 983.4L943.4 962.5L996.9 940.2L1051.0 914.8L1104.9 886.2L1158.9 851.1L1207.8 805.9L1264.9 748.0L1317.6 661.6L1358.6 558.9L1377.2 488.5L1390.9 425.0L1403.9 352.1L1415.6 256.9L1428.0 133.7L1435.6 -2.0L1408.6 -2.0L1402.2 110.4L1394.4 214.2L1385.8 284.9L1371.7 403.4L1321.0 619.3L1261.7 739.9L1213.5 806.6L1170.2 841.2L1112.7 881.9L1056.6 914.0L1002.4 939.4L948.0 960.9L893.8 981.8L840.2 1000.7L785.8 1019.6L731.8 1038.8L677.1 1057.5L623.0 1076.4L568.8 1093.4L500.8 1112.0L433.6 1127.8L365.8 1142.6L296.2 1156.9" stroke-width="3.7"/>
<path class="m" d="M192.3 1201.9L167.7 1186.8V1217.0z" stroke-width="2.4"/>
<path class="m" d="M208.5 1187.9L183.9 1172.8V1203.0z" stroke-width="2.4"/>
<path class="m" d="M226.1 1178.7L201.5 1163.6V1193.8z" stroke-width="2.4"/>
<path class="m" d="M243.2 1172.7L218.6 1157.6V1187.8z" stroke-width="2.4"/>
<path class="m" d="M276.2 1162.8L251.6 1147.7V1177.9z" stroke-width="2.4"/>
<path class="m" d="M297.3 1157.8L272.7 1142.7V1172.9z" stroke-width="2.4"/>
<path class="m" d="M324.6 1151.7L300.0 1136.6V1166.8z" stroke-width="2.4"/>
<path class="m" d="M358.8 1144.8L334.2 1129.7V1159.9z" stroke-width="2.4"/>
<path class="m" d="M379.2 1141.2L354.6 1126.1V1156.3z" stroke-width="2.4"/>
<path class="m" d="M413.4 1132.6L388.8 1117.5V1147.7z" stroke-width="2.4"/>
<path class="m" d="M447.1 1126.4L422.5 1111.3V1141.5z" stroke-width="2.4"/>
<path class="m" d="M480.7 1116.9L456.1 1101.8V1132.0z" stroke-width="2.4"/>
<path class="m" d="M514.2 1110.6L489.6 1095.5V1125.7z" stroke-width="2.4"/>
<path class="m" d="M548.0 1099.9L523.4 1084.8V1115.0z" stroke-width="2.4"/>
<path class="m" d="M582.3 1092.0L557.7 1076.9V1107.1z" stroke-width="2.4"/>
<path class="m" d="M609.4 1082.6L584.8 1067.5V1097.7z" stroke-width="2.4"/>
<path class="m" d="M636.4 1075.0L611.8 1059.9V1090.1z" stroke-width="2.4"/>
<path class="m" d="M687.6 1059.1L663.0 1044.0V1074.2z" stroke-width="2.4"/>
<path class="m" d="M742.3 1040.4L717.7 1025.3V1055.5z" stroke-width="2.4"/>
<path class="m" d="M796.3 1021.2L771.7 1006.1V1036.3z" stroke-width="2.4"/>
<path class="m" d="M850.7 1002.3L826.1 987.2V1017.4z" stroke-width="2.4"/>
<path class="m" d="M904.3 983.4L879.7 968.3V998.5z" stroke-width="2.4"/>
<path class="m" d="M958.5 962.5L933.9 947.4V977.6z" stroke-width="2.4"/>
<path class="m" d="M1012.0 940.2L987.4 925.1V955.3z" stroke-width="2.4"/>
<path class="m" d="M1066.1 914.8L1041.5 899.7V929.9z" stroke-width="2.4"/>
<path class="m" d="M1120.0 886.2L1095.4 871.1V901.3z" stroke-width="2.4"/>
<path class="m" d="M1174.0 851.1L1149.4 836.0V866.2z" stroke-width="2.4"/>
<path class="m" d="M1222.9 805.9L1198.3 790.8V821.0z" stroke-width="2.4"/>
<path class="m" d="M1280.0 748.0L1255.4 732.9V763.1z" stroke-width="2.4"/>
<path class="m" d="M1332.7 661.6L1308.1 646.5V676.7z" stroke-width="2.4"/>
<path class="m" d="M1373.7 558.9L1349.1 543.8V574.0z" stroke-width="2.4"/>
<path class="m" d="M1392.3 488.5L1367.7 473.4V503.6z" stroke-width="2.4"/>
<path class="m" d="M1406.0 425.0L1381.4 409.9V440.1z" stroke-width="2.4"/>
<path class="m" d="M1419.0 352.1L1394.4 337.0V367.2z" stroke-width="2.4"/>
<path class="m" d="M1430.7 256.9L1406.1 241.8V272.0z" stroke-width="2.4"/>
<path class="m" d="M1443.1 133.7L1418.5 118.6V148.8z" stroke-width="2.4"/>
<path class="m" d="M1417.3 110.4L1392.7 95.3V125.5z" stroke-width="2.4"/>
<path class="m" d="M1409.5 214.2L1384.9 199.1V229.3z" stroke-width="2.4"/>
<path class="m" d="M1400.9 284.9L1376.3 269.8V300.0z" stroke-width="2.4"/>
<path class="m" d="M1386.8 403.4L1362.2 388.3V418.5z" stroke-width="2.4"/>
<path class="m" d="M1336.1 619.3L1311.5 604.2V634.4z" stroke-width="2.4"/>
<path class="m" d="M1276.8 739.9L1252.2 724.8V755.0z" stroke-width="2.4"/>
<path class="m" d="M1228.6 806.6L1204.0 791.5V821.7z" stroke-width="2.4"/>
<path class="m" d="M1185.3 841.2L1160.7 826.1V856.3z" stroke-width="2.4"/>
<path class="m" d="M1127.8 881.9L1103.2 866.8V897.0z" stroke-width="2.4"/>
<path class="m" d="M1071.7 914.0L1047.1 898.9V929.1z" stroke-width="2.4"/>
<path class="m" d="M1017.5 939.4L992.9 924.3V954.5z" stroke-width="2.4"/>
<path class="m" d="M963.1 960.9L938.5 945.8V976.0z" stroke-width="2.4"/>
<path class="m" d="M908.9 981.8L884.3 966.7V996.9z" stroke-width="2.4"/>
<path class="m" d="M855.3 1000.7L830.7 985.6V1015.8z" stroke-width="2.4"/>
<path class="m" d="M800.9 1019.6L776.3 1004.5V1034.7z" stroke-width="2.4"/>
<path class="m" d="M746.9 1038.8L722.3 1023.7V1053.9z" stroke-width="2.4"/>
<path class="m" d="M692.2 1057.5L667.6 1042.4V1072.6z" stroke-width="2.4"/>
<path class="m" d="M638.1 1076.4L613.5 1061.3V1091.5z" stroke-width="2.4"/>
<path class="m" d="M583.9 1093.4L559.3 1078.3V1108.5z" stroke-width="2.4"/>
<path class="m" d="M515.9 1112.0L491.3 1096.9V1127.1z" stroke-width="2.4"/>
<path class="m" d="M448.7 1127.8L424.1 1112.7V1142.9z" stroke-width="2.4"/>
<path class="m" d="M380.9 1142.6L356.3 1127.5V1157.7z" stroke-width="2.4"/>
<path class="m" d="M311.3 1156.9L286.7 1141.8V1172.0z" stroke-width="2.4"/>
</g>
<path class="ax" d="M157 28H1517V1390h-6V33H157z" fill="#000"/><path class="ax" d="M293.8 32h5.0V42.3h-5.0zM429.2 32h5.0V52.0h-5.0zM564.5 32h5.0V42.3h-5.0zM699.8 32h5.0V52.0h-5.0zM835.1 32h5.0V42.3h-5.0zM970.5 32h5.0V52.0h-5.0zM1105.8 32h5.0V42.3h-5.0zM1241.1 32h5.0V52.0h-5.0zM1376.5 32h5.0V42.3h-5.0zM1512 1299.7H1502.0v5.0H1512zM1512 1214.9H1492.0v5.0H1512zM1512 1130.1H1502.0v5.0H1512zM1512 1045.3H1492.0v5.0H1512zM1512 960.6H1502.0v5.0H1512zM1512 875.8H1492.0v5.0H1512zM1512 791.0H1502.0v5.0H1512zM1512 706.2H1492.0v5.0H1512zM1512 621.4H1502.0v5.0H1512zM1512 536.6H1492.0v5.0H1512zM1512 451.8H1502.0v5.0H1512zM1512 367.1H1492.0v5.0H1512zM1512 282.3H1502.0v5.0H1512zM1512 197.5H1492.0v5.0H1512zM1512 112.7H1502.0v5.0H1512z" fill="#000"/>
<g class="tl">
<text transform="translate(161.5 1448) scale(1 1.04)" text-anchor="middle">0.0</text>
<text transform="translate(432.2 1448) scale(1 1.04)" text-anchor="middle">0.2</text>
<text transform="translate(702.8 1448) scale(1 1.04)" text-anchor="middle">0.4</text>
<text transform="translate(973.5 1448) scale(1 1.04)" text-anchor="middle">0.6</text>
<text transform="translate(1244.1 1448) scale(1 1.04)" text-anchor="middle">0.8</text>
<text transform="translate(1514.8 1448) scale(1 1.04)" text-anchor="middle">1.0</text>
<text transform="translate(136.6 1401.6) scale(1 1.04)" text-anchor="end">0</text>
<text transform="translate(136.6 1232.0) scale(1 1.04)" text-anchor="end">5</text>
<text transform="translate(136.6 1062.4) scale(1 1.04)" text-anchor="end">10</text>
<text transform="translate(136.6 892.9) scale(1 1.04)" text-anchor="end">15</text>
<text transform="translate(136.6 723.3) scale(1 1.04)" text-anchor="end">20</text>
<text transform="translate(136.6 553.7) scale(1 1.04)" text-anchor="end">25</text>
<text transform="translate(136.6 384.2) scale(1 1.04)" text-anchor="end">30</text>
<text transform="translate(136.6 214.6) scale(1 1.04)" text-anchor="end">35</text>
<text transform="translate(136.6 45.0) scale(1 1.04)" text-anchor="end">40</text>
</g>
<text class="at" transform="translate(836.5 1538) scale(1 1.03)" text-anchor="middle">p/p<tspan class="sub" dx="1.5" dy="16">0</tspan></text>
<text class="at yt" transform="translate(61 708.5) rotate(-90) scale(1 1.03)" text-anchor="middle">Adsorbed amount / cm<tspan class="sup" dy="-23">3</tspan><tspan dy="23"> g</tspan><tspan class="sup" dy="-23">−1</tspan><tspan dy="23"> STP</tspan></text>
<g class="lg s"><path d="M226 107.8H332.5" stroke="#000" stroke-width="4.0" style="stroke-linecap:round"/><path class="m" d="M268.2 97.2h20.9v21.5h-20.9z" stroke="#000" stroke-width="2.2"/><text transform="translate(345.8 126.0) scale(1 1.06)">Cu</text><path d="M226 166.8H332.5" stroke="#f00" stroke-width="4.0" style="stroke-linecap:round"/><path class="m" d="M278.7 151.1L292.7 175.1H264.7z" stroke="#f00" stroke-width="2.8"/><text transform="translate(345.8 185.0) scale(1 1.06)">CoCu14</text><path d="M226 225.4H332.5" stroke="#00f" stroke-width="3.1" style="stroke-linecap:round"/><path class="m" d="M278.7 241.1L292.7 217.1H264.7z" stroke="#00f" stroke-width="2.8"/><text transform="translate(345.8 243.6) scale(1 1.06)">CoCu11</text><path d="M226 284.3H332.5" stroke="#f0f" stroke-width="3.1" style="stroke-linecap:round"/><path class="m" d="M261.7 284.3L287.3 270.5V298.1z" stroke="#f0f" stroke-width="2.8"/><text transform="translate(345.8 302.5) scale(1 1.06)">CoCu41</text><path d="M226 343.2H332.5" stroke="#007f00" stroke-width="4.0" style="stroke-linecap:round"/><path class="m" d="M295.7 343.2L270.1 329.4V357.0z" stroke="#007f00" stroke-width="2.8"/><text transform="translate(345.8 361.4) scale(1 1.06)">Co</text></g>
</svg>
</body></html>
